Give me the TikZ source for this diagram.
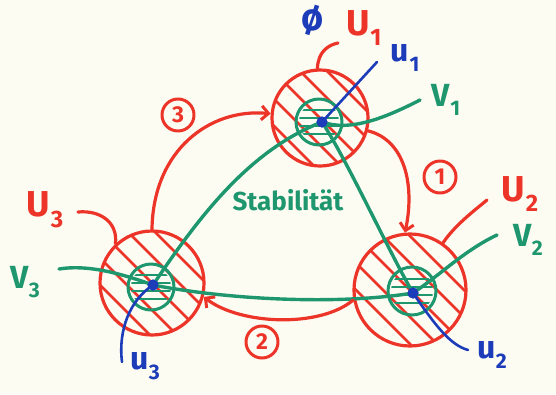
\documentclass[tikz,border=0pt]{standalone}
\usepackage{fontspec}
\setmainfont{Fira Sans}
\usepackage{graphicx}
\usetikzlibrary{arrows.meta}
\definecolor{pred}{RGB}{236,52,40}
\definecolor{pgreen}{RGB}{30,150,110}
\definecolor{pblue}{RGB}{28,60,185}
\definecolor{paper}{RGB}{253,252,243}
\newcommand\lsub[1]{\kern0.5pt\raisebox{-0.3em}{\scalebox{0.66}{#1}}}
\newcommand\hatchzone[3]{%
  \begin{scope}
    \clip (#1,#2) circle (#3pt);
    \foreach \k in {-4,...,4}
      \draw[hatchline] (#1+\k*27-90,#2-90) -- (#1+\k*27+90,#2+90);
  \end{scope}}
\newcommand\greenhatch[3]{%
  \begin{scope}
    \clip (#1,#2) circle (#3pt);
    \foreach \j in {-12,-4,4,12}
      \draw[ghatch] (#1-30,#2+\j) -- (#1+30,#2+\j);
  \end{scope}}
\begin{document}
\begin{tikzpicture}[x=1pt,y=-1pt,line cap=round,line join=round,
  zone/.style={circle,draw=pred,line width=3.2pt,inner sep=0pt},
  hatchline/.style={draw=pred,line width=2.5pt},
  ring/.style={circle,draw=pgreen,line width=3pt,inner sep=0pt},
  ghatch/.style={draw=pgreen,line width=1.8pt},
  dotn/.style={circle,fill=pblue,inner sep=0pt,minimum size=11pt},
  redarrow/.style={draw=pred,line width=3.2pt,-{Straight Barb[length=7pt,width=14pt,line width=3pt]}},
  redline/.style={draw=pred,line width=3.2pt},
  greenline/.style={draw=pgreen,line width=3.4pt},
  blueline/.style={draw=pblue,line width=2.6pt},
  redlab/.style={text=pred,inner sep=0pt,font=\bfseries\fontsize{36}{36}\selectfont},
  bluelab/.style={text=pblue,inner sep=0pt,font=\bfseries\fontsize{32}{32}\selectfont},
  greenlab/.style={text=pgreen,inner sep=0pt,font=\bfseries\fontsize{32}{32}\selectfont},
  numcirc/.style={circle,draw=pred,line width=3pt,text=pred,minimum size=32pt,inner sep=0pt,font=\bfseries\fontsize{23}{23}\selectfont}
]
\fill[paper] (0,0) rectangle (556,394);
\useasboundingbox (0,0) rectangle (556,394);

% hatched zones
\hatchzone{320}{118}{48}
\hatchzone{410}{290}{56}
\hatchzone{152}{283}{52}
\node[zone,minimum size=96pt] (A) at (320,118) {};
\node[zone,minimum size=112pt] (B) at (410,290) {};
\node[zone,minimum size=104pt] (C) at (152,283) {};

% green rings
\greenhatch{319}{122}{20}
\greenhatch{412}{291}{21}
\greenhatch{151}{287}{20}
\node[ring,minimum size=46pt] (ra) at (319,122) {};
\node[ring,minimum size=48pt] (rb) at (412,291) {};
\node[ring,minimum size=46pt] (rc) at (151,287) {};

% dots
\node[dotn] (a) at (322,122) {};
\node[dotn] (b) at (413,293) {};
\node[dotn] (c) at (153,285) {};

% free ends
\coordinate (v1e) at (420,100);
\coordinate (v2e) at (497,235);
\coordinate (v3e) at (59,269);
\coordinate (u1e) at (377,62);
\coordinate (u2e) at (468,350);
\coordinate (u3e) at (122,362);
\coordinate (U1e) at (338,43);
\coordinate (U2e) at (487,200);
\coordinate (U3e) at (78,212);

% green lines
\draw[greenline] (c.center) .. controls (200,215) and (250,150) .. (a.center);
\draw[greenline] (a.center) .. controls (347,160) and (388,250) .. (b.center);
\draw[greenline] (c.center) .. controls (230,300) and (340,305) .. (b.center);
\draw[greenline] (a.center) .. controls (350,132) and (385,118) .. (v1e);
\draw[greenline] (b.center) .. controls (440,275) and (465,250) .. (v2e);
\draw[greenline] (c.center) .. controls (125,275) and (90,264) .. (v3e);

% red arrows
\draw[redarrow] (C.90) .. controls (153,150) and (210,108) .. (A.175);
\draw[redarrow] (A.-15) .. controls (405,140) and (415,185) .. (B.95);
\draw[redarrow] (B.190) .. controls (320,328) and (240,325) .. (C.-15);

% red pointers
\draw[redline] (A.93) .. controls (318,52) and (328,45) .. (U1e);
\draw[redline] (B.55) .. controls (455,225) and (475,210) .. (U2e);
\draw[redline] (C.133) .. controls (118,222) and (100,210) .. (U3e);

% blue lines
\draw[blueline] (a.center) -- (u1e);
\draw[blueline] (b.center) .. controls (435,325) and (450,345) .. (u2e);
\draw[blueline] (c.center) .. controls (130,300) and (118,330) .. (u3e);

% re-draw dots on top
\node[dotn] at (a) {};
\node[dotn] at (b) {};
\node[dotn] at (c) {};

% labels
\node[redlab] (lU1) at (364,28) {U\lsub{1}};
\node[redlab] (lU2) at (520,194) {U\lsub{2}};
\node[redlab] (lU3) at (45,210) {U\lsub{3}};
\node[bluelab] (lu1) at (405,58) {u\lsub{1}};
\node[bluelab] (lu2) at (492,355) {u\lsub{2}};
\node[bluelab] (lu3) at (145,366) {u\lsub{3}};
\node[greenlab] (lV1) at (446,100) {V\lsub{1}};
\node[greenlab] (lV2) at (528,240) {V\lsub{2}};
\node[greenlab] (lV3) at (25,282) {V\lsub{3}};
\node[text=pblue,inner sep=0pt,font=\bfseries\fontsize{38}{38}\selectfont] (phi) at (313,20) {ø};
\node[text=pgreen,inner sep=0pt,font=\bfseries\fontsize{26}{26}\selectfont] (stab) at (288,200) {Stabilität};
\node[numcirc] (n3) at (178,115) {3};
\node[numcirc] (n1) at (440,177) {1};
\node[numcirc] (n2) at (262,342) {2};
\end{tikzpicture}
\end{document}
